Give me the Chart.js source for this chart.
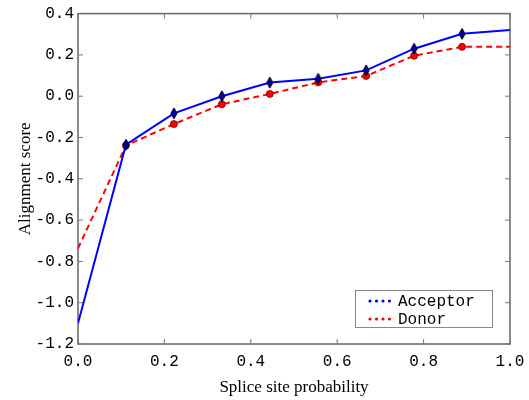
<!DOCTYPE html>
<html lang="en">
<head>
<meta charset="UTF-8">
<title>Alignment score vs splice site probability</title>
<script src="https://cdn.jsdelivr.net/npm/chart.js"></script>
<style>
  html, body { margin: 0; padding: 0; background: #fff; }
  #wrap { width: 529px; height: 400px; position: relative; }
</style>
</head>
<body>
<div id="wrap"><canvas id="scoreChart"></canvas></div>
<script>
// splice site probabilities sampled on the x axis
const probabilities = [0.0, 0.111, 0.222, 0.333, 0.444, 0.556, 0.667, 0.778, 0.889, 1.0];
const acceptorScores = [-1.10, -0.235, -0.083, 0.0, 0.066, 0.084, 0.125, 0.23, 0.302, 0.321];
const donorScores = [-0.737, -0.239, -0.135, -0.039, 0.011, 0.067, 0.098, 0.196, 0.239, 0.239];
const seriesNames = ['Acceptor', 'Donor'];
const xTicks = [0.0, 0.2, 0.4, 0.6, 0.8, 1.0];
const yTicks = [-1.2, -1.0, -0.8, -0.6, -0.4, -0.2, 0.0, 0.2, 0.4];

const MONO = "'Liberation Mono', 'DejaVu Sans Mono', monospace";
const SERIF = "'Liberation Serif', 'DejaVu Serif', serif";

// thin diamond marker like matplotlib's 'd'
function thinDiamond(w, h, fill) {
    const c = document.createElement('canvas');
    c.width = w + 2; c.height = h + 2;
    const g = c.getContext('2d');
    g.beginPath();
    g.moveTo(c.width / 2, 1);
    g.lineTo(c.width - 1, c.height / 2);
    g.lineTo(c.width / 2, c.height - 1);
    g.lineTo(1, c.height / 2);
    g.closePath();
    g.fillStyle = fill;
    g.fill();
    g.lineWidth = 1;
    g.strokeStyle = '#000';
    g.stroke();
    return c;
}

const diamond = thinDiamond(6, 11, '#0000a0');
// no markers on the end points
const markerRadius = probabilities.map((p, i) => (i === 0 || i === probabilities.length - 1) ? 0 : 3.5);

const toPoints = ys => probabilities.map((x, i) => ({ x: x, y: ys[i] }));

// frame with inward ticks on all four sides
const framePlugin = {
    id: 'frame',
    beforeDatasetsDraw(chart) {
        const { ctx, chartArea: a, scales: { x, y } } = chart;
        ctx.save();
        ctx.strokeStyle = '#666';
        ctx.lineWidth = 1.5;
        ctx.strokeRect(a.left, a.top, a.right - a.left, a.bottom - a.top);
        ctx.lineWidth = 1;
        ctx.strokeStyle = '#777';
        const len = 5;
        ctx.beginPath();
        xTicks.forEach(v => {
            const px = x.getPixelForValue(v);
            ctx.moveTo(px, a.bottom); ctx.lineTo(px, a.bottom - len);
            ctx.moveTo(px, a.top); ctx.lineTo(px, a.top + len);
        });
        yTicks.forEach(v => {
            const py = y.getPixelForValue(v);
            ctx.moveTo(a.left, py); ctx.lineTo(a.left + len, py);
            ctx.moveTo(a.right, py); ctx.lineTo(a.right - len, py);
        });
        ctx.stroke();
        ctx.restore();
    },
    afterDraw(chart) {
        // legend box in the lower right corner
        const { ctx } = chart;
        const bx = 355, by = 290, bw = 137, bh = 37;
        ctx.save();
        ctx.fillStyle = '#fff';
        ctx.fillRect(bx, by, bw, bh);
        ctx.strokeStyle = '#888';
        ctx.lineWidth = 1;
        ctx.strokeRect(bx + 0.5, by + 0.5, bw, bh);
        const rows = [
            { name: seriesNames[0], color: '#0000ff', y: by + 11 },
            { name: seriesNames[1], color: '#ff0000', y: by + 29 }
        ];
        ctx.font = '16px ' + MONO;
        ctx.textBaseline = 'middle';
        rows.forEach(r => {
            for (let k = 0; k < 4; k++) {
                ctx.beginPath();
                ctx.arc(370 + k * 6.5, r.y, 1.6, 0, Math.PI * 2);
                ctx.fillStyle = r.color;
                ctx.fill();
            }
            ctx.fillStyle = '#000';
            ctx.fillText(r.name, 398, r.y + 1);
        });
        ctx.restore();
    }
};

new Chart(document.getElementById('scoreChart').getContext('2d'), {
    type: 'line',
    data: {
        datasets: [
            {
                label: seriesNames[0],
                data: toPoints(acceptorScores),
                borderColor: '#0000ff',
                borderWidth: 2,
                pointStyle: diamond,
                pointRadius: markerRadius,
                pointHoverRadius: markerRadius,
                tension: 0
            },
            {
                label: seriesNames[1],
                data: toPoints(donorScores),
                borderColor: '#ff0000',
                borderWidth: 2,
                borderDash: [6, 4],
                pointStyle: 'circle',
                pointBackgroundColor: '#ff0000',
                pointBorderColor: '#600',
                pointBorderWidth: 0.8,
                pointRadius: markerRadius,
                pointHoverRadius: markerRadius,
                tension: 0
            }
        ]
    },
    options: {
        responsive: true,
        maintainAspectRatio: false,
        animation: false,
        layout: { padding: { top: 13, right: 19, left: 0, bottom: 0 } },
        plugins: { legend: { display: false }, tooltip: { enabled: false } },
        scales: {
            x: {
                type: 'linear',
                min: 0, max: 1,
                afterFit: s => { s.height = 56; s.paddingLeft = 0; s.paddingRight = 0; },
                afterBuildTicks: s => { s.ticks = xTicks.map(v => ({ value: v })); },
                grid: { display: false, drawTicks: false },
                border: { display: false },
                ticks: { padding: 8, color: '#000', font: { family: MONO, size: 16 }, callback: v => v.toFixed(1), maxRotation: 0 },
                title: { display: true, text: 'Splice site probability', color: '#000', font: { family: SERIF, size: 17 }, padding: { bottom: 2, top: 0 } }
            },
            y: {
                min: -1.2, max: 0.4,
                afterFit: s => { s.width = 78; },
                afterBuildTicks: s => { s.ticks = yTicks.map(v => ({ value: v })); },
                grid: { display: false, drawTicks: false },
                border: { display: false },
                ticks: { padding: 4, color: '#000', font: { family: MONO, size: 16 }, callback: v => v.toFixed(1) },
                title: { display: true, text: 'Alignment score', color: '#000', font: { family: SERIF, size: 17 }, padding: { top: 15, bottom: 0 } }
            }
        }
    },
    plugins: [framePlugin]
});
</script>
</body>
</html>
